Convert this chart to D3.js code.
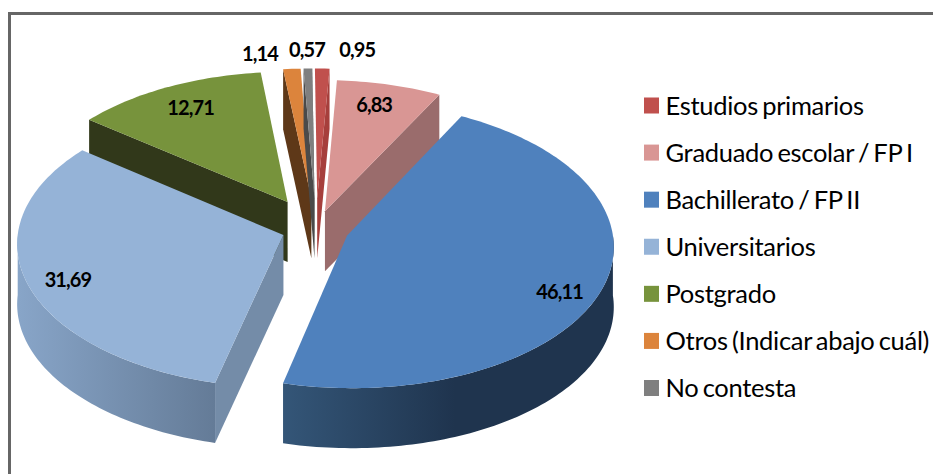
<!DOCTYPE html>
<html>
<head>
<meta charset="utf-8">
<style>
html, body { margin:0; padding:0; background:#fff; }
svg { display:block; }
text { font-family:Lato, "Open Sans", sans-serif; fill:#000; }
.val { font-size:20px; font-weight:700; text-anchor:middle; letter-spacing:-0.9px; }
.leg { font-size:25.5px; letter-spacing:-0.3px; word-spacing:-2px; }
</style>
<script src="https://cdn.jsdelivr.net/npm/d3@7"></script>
</head>
<body>
<div id="chart"></div>
<script>
/* values and categories */
var categories = ['Estudios primarios','Graduado escolar / FP I','Bachillerato / FP II','Universitarios','Postgrado','Otros (Indicar abajo cuál)','No contesta'];
var values = [0.95,6.83,46.11,31.69,12.71,1.14,0.57];
var valueLabels = ['0,95','6,83','46,11','31,69','12,71','1,14','0,57'];

/* slice styling */
var topColors = ['#c0504d','#d99694','#4f81bd','#95b3d7','#77933c','#dc843c','#7f7f7f'];
var wallColors = ['#a63f3c','#9a6c6c','#1f344e','#748ca8','#31381a','#5e3818','#4a4a4a'];
var explode = [0.22,0.13,0.125,0.13,0.22,0.22,0.22];
var drawOrder = [5,6,0,4,1,2,3];

/* label spots on the pie plane, -1..1 is the rim */
var labelU = [0.182,0.241,0.89,-0.918,-0.493,-0.218,-0.025];
var labelV = [-1.374,-0.928,0.429,0.348,-0.905,-1.341,-1.374];

var width = 933, height = 474;
var depth = 60, persp = 0.065, skew = 0.009;

var svg = d3.select('#chart')
	.append('svg')
	.attr('width', width)
	.attr('height', height);

var defs = svg.append('defs');

function wallGradient(id, x1, x2, stops){
	var g = defs.append('linearGradient')
		.attr('id', id)
		.attr('gradientUnits','userSpaceOnUse')
		.attr('x1',x1).attr('x2',x2).attr('y1',0).attr('y2',0);
	stops.forEach(function(s){
		g.append('stop').attr('offset',s[0]).attr('stop-color',s[1]);
	});
}
wallGradient('wall-blue', 283, 613, [[0,'#345678'],[0.52,'#1f344e'],[1,'#1f344e']]);
wallGradient('wall-light', 18, 216, [[0,'#88a5c8'],[1,'#647b97']]);
var outerFill = {2:'url(#wall-blue)', 3:'url(#wall-light)'};

/* frame */
svg.append('path')
	.attr('d','M'+9.5+','+height+'V13.5H'+width)
	.style('fill','none')
	.style('stroke','#666')
	.style('stroke-width',3);

/* plane -> screen, a little perspective so the near side is bigger */
var xScale = d3.scaleLinear().domain([-1,1]).range([316-265,316+265]);
var yScale = d3.scaleLinear().domain([-1,1]).range([229-142,229+142]);

function project(u,v){
	var s = 1/(1-persp*v);
	return [xScale((u+skew*v)*s), yScale(v*s)];
}

var line = d3.line();
var pie = d3.pie().sort(null).value(function(d){return d;});
var slices = pie(values);

function rimPoint(apex,a){
	return project(apex[0]+Math.sin(a), apex[1]-Math.cos(a));
}
function down(p){ return [p[0],p[1]+depth]; }

function rimPoints(apex,a0,a1){
	var n = Math.max(2,Math.ceil((a1-a0)/0.02));
	return d3.range(n+1).map(function(i){
		return rimPoint(apex,a0+(a1-a0)*i/n);
	});
}

drawOrder.forEach(function(i){
	var d = slices[i];
	var mid = (d.startAngle+d.endAngle)/2;
	var apex = [explode[i]*Math.sin(mid), -explode[i]*Math.cos(mid)];
	var c = project(apex[0],apex[1]);
	var group = svg.append('g').attr('class','slice');

	/* radial walls that face the viewer */
	var edges = [];
	if (Math.sin(d.endAngle) > 0) edges.push(d.endAngle);
	if (Math.sin(d.startAngle) < -0.0001) edges.push(d.startAngle);
	if (i === 0) edges = [d.endAngle];
	edges.forEach(function(a){
		var p = rimPoint(apex,a);
		group.append('path')
			.attr('d', line([c,p,down(p),down(c)])+'Z')
			.style('fill',wallColors[i]);
	});

	/* outer wall, only the near half of the circle */
	var a0 = Math.max(d.startAngle,Math.PI/2), a1 = Math.min(d.endAngle,Math.PI*1.5);
	if (a1 > a0){
		var rim = rimPoints(apex,a0,a1);
		group.append('path')
			.attr('d', line(rim.concat(rim.slice().reverse().map(down)))+'Z')
			.style('fill',outerFill[i] || wallColors[i]);
	}

	/* top face */
	group.append('path')
		.attr('d', line([c].concat(rimPoints(apex,d.startAngle,d.endAngle)))+'Z')
		.style('fill',topColors[i]);
});

/* value labels */
svg.selectAll('text.val')
	.data(valueLabels)
	.enter()
	.append('text')
	.attr('class','val')
	.attr('x',function(d,i){return project(labelU[i],labelV[i])[0];})
	.attr('y',function(d,i){return project(labelU[i],labelV[i])[1];})
	.attr('dy','0.35em')
	.text(function(d){return d;});

/* legend */
var legendY = d3.scalePoint().domain(categories).range([105.5,388]);

var legend = svg.selectAll('g.legend')
	.data(categories)
	.enter()
	.append('g')
	.attr('class','legend')
	.attr('transform',function(d){return 'translate(644,'+legendY(d)+')';});

legend.append('rect')
	.attr('y',-8)
	.attr('width',15)
	.attr('height',16)
	.style('fill',function(d,i){return topColors[i];});

legend.append('text')
	.attr('class','leg')
	.attr('x',21.5)
	.attr('y',9)
	.text(function(d){return d;});
</script>
</body>
</html>
